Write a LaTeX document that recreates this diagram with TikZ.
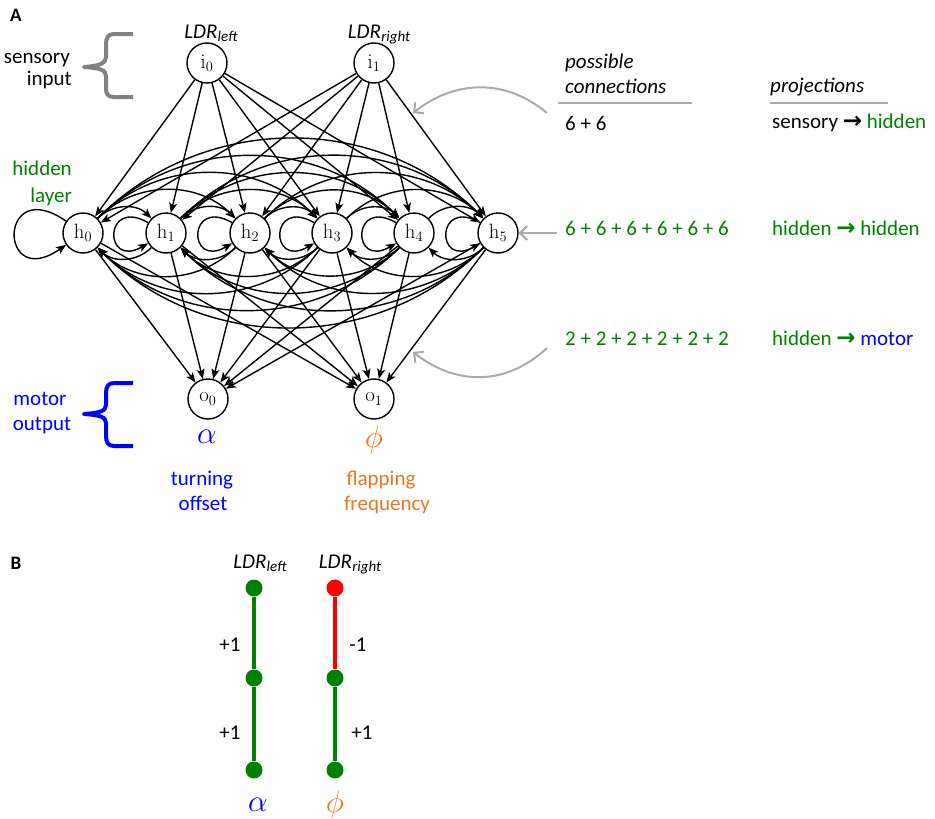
\documentclass[tikz,border=0pt]{standalone}
\usepackage{graphicx}
\usepackage[no-math]{fontspec}
\setmainfont{Carlito}
\newfontfamily\arrowfont{DejaVu Sans}
\usetikzlibrary{arrows.meta}
\pgfdeclarelayer{background}
\pgfsetlayers{background,main}
\definecolor{mygreen}{RGB}{0,128,0}
\definecolor{myblue}{RGB}{0,0,255}
\definecolor{myorange}{RGB}{232,120,30}
\definecolor{myred}{RGB}{255,0,0}
\definecolor{bracegray}{RGB}{128,128,128}
\definecolor{linegray}{RGB}{170,170,170}
\newcommand{\ldrtxt}[1]{\textit{LDR}\kern0.3pt\raisebox{-3pt}{\fontsize{15}{15}\selectfont\textit{#1}}}
\newcommand{\myarrow}{{\arrowfont\bfseries\fontsize{23}{23}\selectfont →}}
\newcommand{\biggreek}[1]{\scalebox{1.5}{$#1$}}
\begin{document}
\begin{tikzpicture}[x=1pt,y=-1pt,
  neuron/.style={circle,draw,line width=1.4pt,fill=white,minimum size=40pt,inner sep=0pt,font=\fontsize{20}{20}\selectfont},
  conn/.style={line width=1.4pt,-{Stealth[length=10pt,width=8pt,inset=2.5pt]}},
  txt/.style={font=\fontsize{21}{25}\selectfont,inner sep=0pt},
  greek/.style={font=\fontsize{20.74}{21}\selectfont,inner sep=0pt},
  panel/.style={font=\fontsize{19}{19}\selectfont\bfseries,inner sep=0pt},
  grayarrow/.style={linegray,line width=2pt,-{Straight Barb[length=7pt,width=14pt]}},
  rule/.style={linegray,line width=1.5pt},
  bracepath/.style={line width=4pt,line join=round},
  dot/.style={circle,inner sep=0pt,minimum size=17pt},
  bline/.style={line width=4pt}
]
\useasboundingbox (0,0) rectangle (935,819);

% panel labels
\node[panel] (pA) at (16,15) {A};
\node[panel] (pB) at (16,563) {B};

% neurons
\node[neuron] (i0) at (207,63) {$\mathrm{i}_0$};
\node[neuron] (i1) at (374,63) {$\mathrm{i}_1$};
\node[neuron] (h0) at (83,233) {$\mathrm{h}_0$};
\node[neuron] (h1) at (166,233) {$\mathrm{h}_1$};
\node[neuron] (h2) at (250,233) {$\mathrm{h}_2$};
\node[neuron] (h3) at (332,233) {$\mathrm{h}_3$};
\node[neuron] (h4) at (414,233) {$\mathrm{h}_4$};
\node[neuron] (h5) at (498,233) {$\mathrm{h}_5$};
\node[neuron] (o0) at (208,399) {$\mathrm{o}_0$};
\node[neuron] (o1) at (374,399) {$\mathrm{o}_1$};

\begin{pgfonlayer}{background}
\foreach \a in {0,1} \foreach \b in {0,...,5} \draw[conn] (i\a) -- (h\b);
\foreach \a in {0,...,5} \foreach \b in {0,1} \draw[conn] (h\a) -- (o\b);
\foreach \a in {0,...,5} \foreach \b in {0,...,5} {%
  \ifnum\a=\b\relax\else \draw[conn] (h\a) to[bend left=45] (h\b);\fi}
\draw[conn] (h0) to[out=145,in=215,looseness=9] (h0);
\foreach \a in {1,...,5} \draw[conn] (h\a) to[out=150,in=210,looseness=6.4] (h\a);
\end{pgfonlayer}

% input labels
\node[txt,anchor=base] (ldrl) at (211,38) {\ldrtxt{left}};
\node[txt,anchor=base] (ldrr) at (379,38) {\ldrtxt{right}};

% sensory input
\node[txt,anchor=base east] (sens1) at (70,63) {sensory};
\node[txt,anchor=base east] (sens2) at (72,85) {input};
\draw[bracegray,bracepath] (133,34) -- (114,34) .. controls (108,34) and (106,38) .. (106,44) -- (106,57) .. controls (106,63) and (100,66) .. (84,67) .. controls (100,68) and (106,70) .. (106,76) -- (106,89) .. controls (106,94) and (108,97) .. (114,97) -- (133,97);

% hidden layer
\node[txt,anchor=base east,text=mygreen] (hid1) at (72,175) {hidden};
\node[txt,anchor=base east,text=mygreen] (hid2) at (72,202) {layer};

% motor output
\node[txt,anchor=base,text=myblue] (mot1) at (40,405) {motor};
\node[txt,anchor=base,text=myblue] (mot2) at (42,430) {output};
\draw[myblue,bracepath] (133,383) -- (114,383) .. controls (108,383) and (106,387) .. (106,393) -- (106,405) .. controls (106,411) and (100,413) .. (84,414) .. controls (100,415) and (106,417) .. (106,423) -- (106,436) .. controls (106,442) and (108,446) .. (114,446) -- (133,446);

% output labels
\node[greek,text=myblue] (alpha) at (207,437) {\biggreek{\alpha}};
\node[greek,text=myorange] (phi) at (374,440) {\biggreek{\phi}};
\node[txt,anchor=base,text=myblue] (turn1) at (202,485) {turning};
\node[txt,anchor=base,text=myblue] (turn2) at (203,510) {offset};
\node[txt,anchor=base,text=myorange] (flap1) at (381,485) {flapping};
\node[txt,anchor=base,text=myorange] (flap2) at (387,510) {frequency};

% right table
\node[txt,anchor=base west] (pc1) at (565,68) {\textit{possible}};
\node[txt,anchor=base west] (pc2) at (565,93) {\textit{connections}};
\draw[rule] (558,103) -- (692,103);
\node[txt,anchor=base west] (c1) at (565,130) {6 + 6};
\node[txt,anchor=base west] (pr) at (770,92) {\textit{projections}};
\draw[rule] (770,103) -- (888,103);
\node[txt,anchor=base west] (p1) at (772,128) {sensory \myarrow{} \textcolor{mygreen}{hidden}};
\node[txt,anchor=base west,text=mygreen] (c2) at (565,235) {6 + 6 + 6 + 6 + 6 + 6};
\node[txt,anchor=base west,text=mygreen] (p2) at (772,235) {hidden \myarrow{} hidden};
\node[txt,anchor=base west,text=mygreen] (c3) at (565,345) {2 + 2 + 2 + 2 + 2 + 2};
\node[txt,anchor=base west,text=mygreen] (p3) at (772,345) {hidden \myarrow{} \textcolor{myblue}{motor}};

% gray pointer arrows
\coordinate (g1s) at (547,113);
\coordinate (g1e) at (413,113);
\draw[grayarrow] (g1s) .. controls (505,78) and (455,80) .. (g1e);
\coordinate (g2s) at (557,233);
\draw[grayarrow] (g2s) -- (h5);
\coordinate (g3s) at (547,348);
\coordinate (g3e) at (413,352);
\draw[grayarrow] (g3s) .. controls (505,387) and (455,385) .. (g3e);

% panel B
\node[txt,anchor=base] (bl) at (260,568) {\ldrtxt{left}};
\node[txt,anchor=base] (br) at (350,568) {\ldrtxt{right}};
\node[dot,fill=mygreen] (l1) at (254,588) {};
\node[dot,fill=mygreen] (l2) at (254,678) {};
\node[dot,fill=mygreen] (l3) at (254,770) {};
\node[dot,fill=myred] (r1) at (335,588) {};
\node[dot,fill=mygreen] (r2) at (335,678) {};
\node[dot,fill=mygreen] (r3) at (335,770) {};
\begin{pgfonlayer}{background}
\draw[bline,mygreen] (l1) -- (l2);
\draw[bline,mygreen] (l2) -- (l3);
\draw[bline,myred] (r1) -- (r2);
\draw[bline,mygreen] (r2) -- (r3);
\end{pgfonlayer}
\node[txt] (w1) at (230,645) {+1};
\node[txt] (w2) at (230,733) {+1};
\node[txt] (w3) at (358,645) {-1};
\node[txt] (w4) at (362,733) {+1};
\node[greek,text=myblue] (balpha) at (258,805) {\biggreek{\alpha}};
\node[greek,text=myorange] (bphi) at (335,805) {\biggreek{\phi}};
\end{tikzpicture}
\end{document}
